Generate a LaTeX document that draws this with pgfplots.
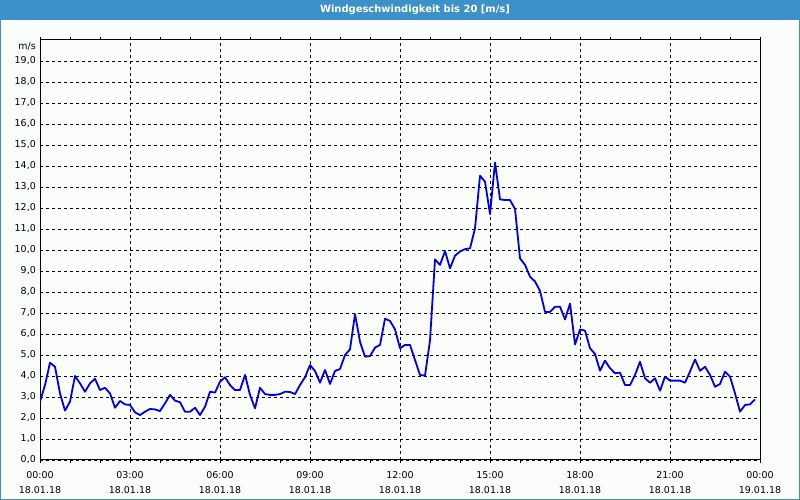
\documentclass[border=0pt]{standalone}
\usepackage{pgfplots}
\pgfplotsset{compat=1.18}
\usepackage{fontspec}
\setmainfont{DejaVu Sans}
\definecolor{barblue}{RGB}{60,145,200}
\definecolor{bgc}{RGB}{251,253,251}
\definecolor{lineblue}{RGB}{0,0,225}
\pgfplotstableread{
t v
0 2.78
10 3.57
20 4.63
30 4.44
40 3.17
50 2.35
60 2.78
70 4.00
80 3.65
90 3.25
100 3.65
110 3.87
120 3.33
130 3.44
140 3.17
150 2.49
160 2.81
170 2.65
180 2.62
190 2.27
200 2.14
210 2.30
220 2.43
230 2.41
240 2.33
250 2.70
260 3.10
270 2.83
280 2.75
290 2.30
300 2.30
310 2.49
320 2.14
330 2.54
340 3.25
350 3.21
360 3.73
370 3.94
380 3.57
390 3.33
400 3.33
410 4.05
420 3.10
430 2.46
440 3.44
450 3.14
460 3.10
470 3.10
480 3.14
490 3.25
500 3.24
510 3.14
520 3.57
530 3.94
540 4.52
550 4.24
560 3.68
570 4.29
580 3.62
590 4.24
600 4.33
610 5.00
620 5.27
630 6.95
640 5.63
650 4.92
660 4.95
670 5.35
680 5.48
690 6.73
700 6.62
710 6.22
720 5.32
730 5.48
740 5.48
750 4.76
760 4.05
770 4.02
780 5.70
790 9.55
800 9.29
810 9.95
820 9.13
830 9.73
840 9.93
850 10.04
860 10.08
870 11.03
880 13.54
890 13.25
900 11.71
910 14.16
920 12.41
930 12.38
940 12.38
950 11.95
960 9.60
970 9.29
980 8.73
990 8.50
1000 8.05
1010 7.05
1020 7.05
1030 7.30
1040 7.30
1050 6.69
1060 7.45
1070 5.50
1080 6.22
1090 6.16
1100 5.32
1110 5.05
1120 4.25
1130 4.73
1140 4.37
1150 4.13
1160 4.16
1170 3.57
1180 3.57
1190 4.05
1200 4.68
1210 3.89
1220 3.68
1230 3.89
1240 3.30
1250 3.97
1260 3.78
1270 3.78
1280 3.78
1290 3.68
1300 4.21
1310 4.79
1320 4.25
1330 4.44
1340 4.05
1350 3.49
1360 3.62
1370 4.21
1380 3.97
1390 3.17
1400 2.30
1410 2.62
1420 2.65
1430 2.89
}\winddata
\begin{document}
\begin{tikzpicture}[x=1bp,y=1bp]
\useasboundingbox (0,0) rectangle (800,500);
\fill[barblue] (0,0) rectangle (800,500);
\fill[bgc] (1,1) rectangle (799,480);
\node[text=white, font=\bfseries\fontsize{10}{11}\selectfont] at (415,490) {Windgeschwindigkeit bis 20 [m/s]};
\node[anchor=east, font=\fontsize{9.5}{11}\selectfont, inner sep=0pt] at (36,454) {m/s};
\begin{axis}[
  at={(40bp,40bp)}, anchor=south west,
  scale only axis, width=720bp, height=420bp,
  xmin=0, xmax=1440, ymin=0, ymax=20,
  axis line style={black, line width=1bp},
  xtick={0,180,...,1440},
  minor xtick={0,60,...,1440},
  xticklabels={{00:00\\18.01.18},{03:00\\18.01.18},{06:00\\18.01.18},{09:00\\18.01.18},{12:00\\18.01.18},{15:00\\18.01.18},{18:00\\18.01.18},{21:00\\18.01.18},{00:00\\19.01.18}},
  ytick={0,1,...,19},
  xmajorgrids, ymajorgrids,
  major grid style={black, line width=0.9bp, dash pattern=on 3bp off 3bp},
  tick align=outside,
  major tick length=3bp, minor tick length=3bp,
  xtick style={black, line width=0.9bp},
  ytick style={draw=none},
  xticklabel style={align=center, font=\fontsize{9.5}{15}\selectfont, inner sep=0pt, yshift=-8bp},
  yticklabel style={font=\fontsize{9.5}{11}\selectfont, inner sep=0pt, xshift=-1bp},
  /pgf/number format/.cd, fixed, fixed zerofill, precision=1, use comma, assume math mode=true,
]
\addplot[lineblue, line width=1.8bp, line join=round] table[x=t, y=v] {\winddata};
\end{axis}
\end{tikzpicture}
\end{document}
